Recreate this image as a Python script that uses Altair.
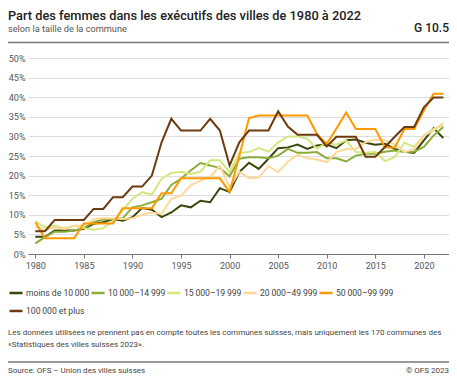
import altair as alt
import pandas as pd

years = list(range(1980, 2023))

categories = [
    "moins de 10\u2009000",
    "10\u2009000–14\u2009999",
    "15\u2009000–19\u2009999",
    "20\u2009000–49\u2009999",
    "50\u2009000–99\u2009999",
    "100\u2009000 et plus",
]
colors = ["#3b4708", "#8aad3a", "#d3e77e", "#ffd899", "#ff9900", "#6b3a0e"]

s_lt10 = [4.4, 4.4, 6.0, 6.0, 6.0, 6.4, 7.7, 8.1, 8.9, 8.5,
          9.4, 11.7, 11.3, 9.4, 10.6, 12.4, 11.9, 13.6, 13.2, 16.8,
          15.8, 20.9, 23.3, 21.7, 24.3, 27.0, 27.2, 27.9, 26.8, 27.7,
          27.9, 27.0, 29.0, 29.2, 28.4, 27.9, 28.1, 26.8, 26.1, 25.8,
          29.0, 32.1, 29.6]
s_10_15 = [2.7, 4.3, 5.7, 5.7, 6.0, 6.6, 8.1, 8.8, 8.9, 9.1,
           11.9, 12.4, 13.2, 14.1, 17.6, 19.2, 21.3, 23.2, 22.6, 21.9,
           19.8, 24.3, 24.7, 24.7, 24.4, 25.1, 26.8, 25.8, 25.8, 26.0,
           24.4, 24.4, 23.6, 25.1, 25.6, 25.6, 26.1, 26.4, 26.0, 26.1,
           27.3, 30.2, 32.4]
s_15_20 = [8.3, 6.8, 7.2, 6.6, 7.2, 6.6, 6.2, 6.6, 8.3, 11.1,
           14.1, 15.8, 15.1, 19.2, 20.7, 21.0, 20.4, 21.0, 23.9, 23.9,
           20.9, 25.8, 26.0, 27.0, 26.1, 28.5, 30.0, 30.0, 29.4, 26.8,
           28.5, 27.9, 29.0, 26.0, 25.8, 26.0, 23.7, 24.7, 28.4, 27.3,
           30.2, 31.9, 32.8]
s_20_50 = [7.0, 6.0, 6.8, 6.4, 7.2, 7.2, 8.9, 9.1, 9.1, 8.9,
           9.1, 10.0, 10.6, 10.2, 14.1, 14.9, 17.5, 18.7, 19.6, 22.5,
           17.0, 21.0, 19.3, 19.5, 22.4, 20.9, 23.6, 25.3, 24.4, 24.1,
           23.4, 26.0, 26.8, 26.8, 28.5, 29.2, 29.0, 27.9, 26.0, 26.8,
           30.2, 31.5, 33.4]
s_50_100 = [8.1, 4.0, 4.0, 4.0, 4.0, 7.8, 7.8, 7.8, 7.8, 11.7,
            11.7, 11.7, 11.7, 15.5, 15.5, 19.3, 19.3, 19.3, 19.3, 19.3,
            15.8, 25.0, 34.7, 35.3, 35.3, 35.3, 35.3, 35.3, 35.3, 30.6,
            28.1, 32.0, 36.1, 31.9, 31.9, 31.9, 27.2, 27.2, 31.9, 31.9,
            36.6, 40.9, 40.9]
s_100 = [5.8, 5.8, 8.7, 8.7, 8.7, 8.7, 11.5, 11.5, 14.5, 14.5,
         17.2, 17.2, 20.0, 28.5, 34.5, 31.5, 31.5, 31.5, 34.5, 31.5,
         22.6, 28.5, 31.5, 31.5, 31.5, 36.4, 32.5, 30.4, 30.4, 30.4,
         27.4, 29.9, 29.9, 29.9, 24.8, 24.8, 27.3, 29.9, 32.4, 32.4,
         37.4, 39.9, 39.9]

series = [s_lt10, s_10_15, s_15_20, s_20_50, s_50_100, s_100]

title = "Part des femmes dans les exécutifs des villes de 1980 à 2022"
subtitle = "selon la taille de la commune"
code = "G 10.5"
note1 = ("Les données utilisées ne prennent pas en compte toutes les communes suisses, "
         "mais uniquement les 170 communes des")
note2 = "«Statistiques des villes suisses 2023»."
source = "Source: OFS – Union des villes suisses"
copyright_ = "© OFS 2023"

rows = []
for cat, vals in zip(categories, series):
    for y, v in zip(years, vals):
        rows.append({"year": y, "value": v, "cat": cat})
df = pd.DataFrame(rows)

FONT = "Roboto"
W, H = 421, 196
L = -20      # left edge of the page content, relative to the plot origin
R = W        # right edge

lines = alt.Chart(df).mark_line(strokeWidth=2, strokeJoin="miter").encode(
    x=alt.X("year:Q",
            scale=alt.Scale(domain=[1979.249, 2022.587], nice=False, zero=False),
            axis=alt.Axis(values=[1980, 1985, 1990, 1995, 2000, 2005, 2010, 2015, 2020],
                          format="d", title=None, grid=False,
                          domainColor="#777", tickColor="#777", tickSize=4,
                          labelFontSize=9, labelColor="#555", labelFont=FONT,
                          labelPadding=3)),
    y=alt.Y("value:Q",
            scale=alt.Scale(domain=[0, 50], nice=False),
            axis=alt.Axis(values=list(range(0, 51, 5)), labelExpr="datum.value + '%'",
                          title=None, domain=False, ticks=False,
                          gridColor="#dedede", gridWidth=1,
                          labelFontSize=9, labelColor="#555", labelFont=FONT,
                          labelPadding=3)),
    color=alt.Color("cat:N",
                    scale=alt.Scale(domain=categories, range=colors),
                    sort=categories,
                    legend=alt.Legend(orient="none", legendX=L, legendY=227,
                                      direction="horizontal", columns=5,
                                      title=None, symbolType="stroke",
                                      symbolStrokeWidth=2.5, symbolSize=170,
                                      labelFontSize=8.6, labelFont=FONT,
                                      labelColor="#444", labelLimit=250,
                                      columnPadding=-12, rowPadding=5,
                                      labelOffset=2)),
)


def txt(s, x, y, size, color, weight="normal", align="left"):
    return alt.Chart(pd.DataFrame({"t": [s]})).mark_text(
        align=align, baseline="alphabetic", fontSize=size, font=FONT,
        fontWeight=weight, color=color
    ).encode(x=alt.value(x), y=alt.value(y), text="t:N")


def hrule(x1, x2, y, color, width):
    return alt.Chart(pd.DataFrame({"a": [0]})).mark_rule(
        color=color, strokeWidth=width
    ).encode(x=alt.value(x1), x2=alt.value(x2), y=alt.value(y))


# positions relative to plot origin (page x 28, y 58)
layers = [
    lines,
    txt(title, L, -38.5, 12.8, "#222", weight=500),
    txt(subtitle, L, -26, 9.2, "#555"),
    txt(code, R, -26, 12, "#222", weight=500, align="right"),
    hrule(L, R, -15.5, "#777", 1.5),
    txt(note1, L, 277, 8.0, "#444"),
    txt(note2, L, 289, 8.0, "#444"),
    hrule(L, R, 304, "#777", 1.5),
    txt(source, L, 315, 8.0, "#444"),
    txt(copyright_, R, 315, 8.0, "#444", align="right"),
]

chart = alt.layer(*layers).properties(
    width=W, height=H,
    padding={"left": 20, "top": 50, "right": 0, "bottom": 120},
    autosize=alt.AutoSizeParams(type="none"),
).configure_view(stroke=None)

chart.save("out.html", embed_options={"renderer": "svg", "actions": False})
